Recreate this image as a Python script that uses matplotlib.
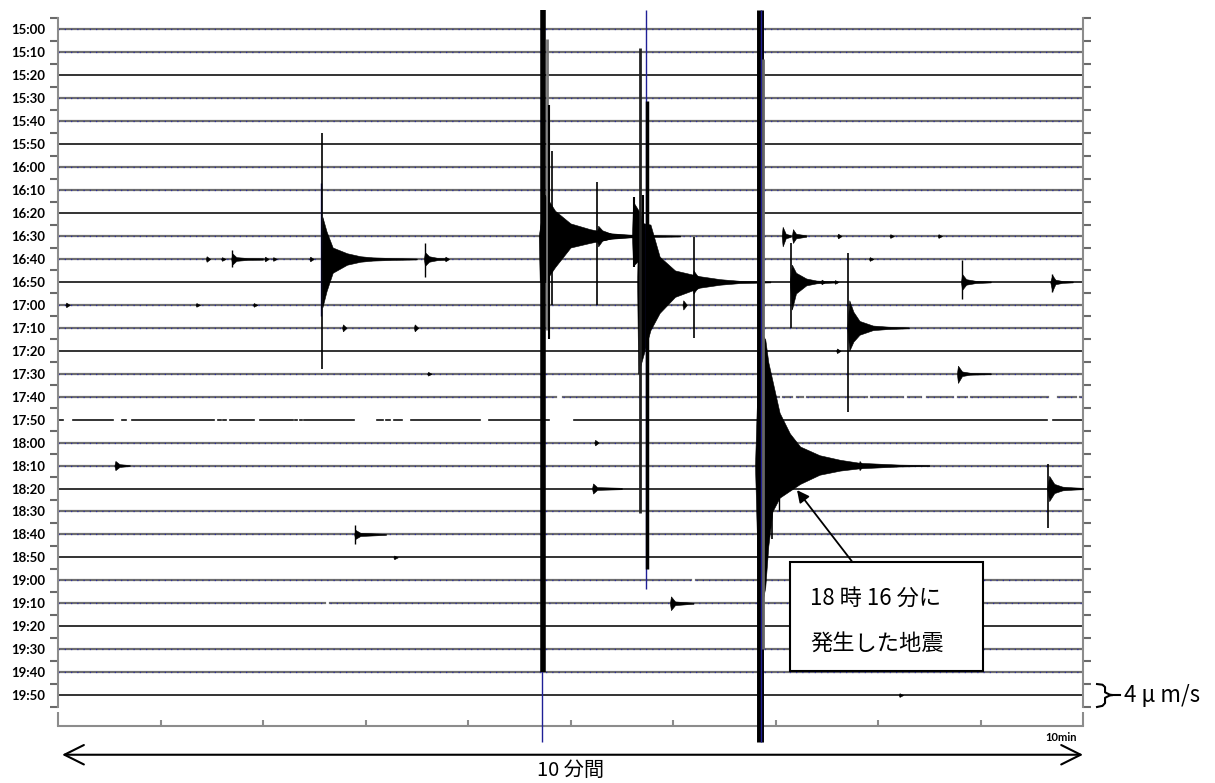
import numpy as np
import matplotlib.pyplot as plt
from matplotlib.patches import Rectangle

plt.rcParams['font.family'] = ['Noto Sans CJK JP', 'DejaVu Sans']

# one trace row every 10 minutes, 10 minutes across
row_labels = ['15:00', '15:10', '15:20', '15:30', '15:40', '15:50',
              '16:00', '16:10', '16:20', '16:30', '16:40', '16:50',
              '17:00', '17:10', '17:20', '17:30', '17:40', '17:50',
              '18:00', '18:10', '18:20', '18:30', '18:40', '18:50',
              '19:00', '19:10', '19:20', '19:30', '19:40', '19:50']

# missing data (minutes) on some rows
gaps_1740 = [(4.86, 4.93), (7.03, 7.07), (7.16, 7.21), (7.27, 7.31), (7.89, 7.93),
             (8.24, 8.29), (8.42, 8.48), (8.73, 8.78), (8.87, 8.91), (9.66, 9.76),
             (9.93, 9.97)]
gaps_1750 = [(0.05, 0.15), (0.54, 0.62), (0.66, 0.72), (1.52, 1.56), (1.59, 1.61),
             (1.64, 1.68), (1.91, 1.97), (2.29, 2.31), (2.33, 2.36), (2.38, 2.40),
             (2.89, 3.11), (3.17, 3.20), (3.24, 3.28), (3.36, 3.44), (4.12, 4.20),
             (4.79, 5.03), (9.65, 9.71)]
gaps_1900 = [(6.18, 6.22)]
gaps_1910 = [(2.60, 2.65)]
row_gaps = {16: gaps_1740, 17: gaps_1750, 24: gaps_1900, 25: gaps_1910}

BLK = 'black'
BLU = '#1f1f96'
# spikes: (row, minute, up, down, line width, colour), amplitudes in row spacings
spikes = [
    (9, 4.72, 9.84, 22.03, 1.0, BLU),
    (9, 4.73, 9.84, 19.0, 4.0, BLK),
    (9, 4.77, 8.6, 4.1, 2.0, '#777777'),
    (9, 4.79, 5.7, 4.5, 1.5, BLK),
    (9, 4.82, 3.7, 3.0, 1.2, BLK),
    (9, 5.26, 2.35, 3.0, 1.2, BLK),
    (9, 5.62, 1.7, 1.35, 1.5, BLK),
    (10, 1.70, 0.4, 0.35, 1.0, BLK),
    (10, 2.57, 3.3, 2.5, 1.0, BLU),
    (10, 2.575, 5.5, 4.8, 1.2, BLK),
    (10, 3.58, 0.7, 0.8, 1.0, BLK),
    (11, 5.68, 10.2, 10.06, 2.0, '#222222'),
    (11, 5.71, 3.8, 3.0, 1.5, BLK),
    (11, 5.74, 11.84, 13.4, 1.0, BLU),
    (11, 5.75, 7.9, 12.5, 2.5, BLK),
    (11, 6.20, 1.96, 2.44, 1.2, BLK),
    (11, 7.155, 1.7, 2.0, 1.2, BLK),
    (11, 8.82, 0.95, 0.75, 1.0, BLK),
    (11, 9.70, 0.35, 0.45, 1.0, BLK),
    (13, 7.71, 3.25, 3.65, 1.2, BLK),
    (19, 6.85, 19.85, 12.06, 5.0, BLK),
    (19, 6.86, 19.85, 12.06, 1.0, BLU),
    (19, 6.88, 17.7, 8.0, 2.0, '#666666'),
    (19, 6.97, 2.9, 3.2, 1.2, BLK),
    (19, 7.03, 2.0, 2.0, 1.0, BLK),
    (20, 9.66, 1.05, 1.7, 1.2, BLK),
    (22, 2.90, 0.4, 0.4, 1.0, BLK),
]

# coda envelopes: (row, minutes, up, down); down None -> same as up
codas = [
    (10, [1.69, 1.70, 1.74, 1.85, 2.0], [0, 0.25, 0.08, 0.04, 0.03], None),
    (10, [2.57, 2.58, 2.62, 2.68, 2.82, 2.95, 3.07, 3.27, 3.5],
     [0, 1.83, 1.2, 0.5, 0.25, 0.12, 0.07, 0.04, 0.02],
     [0, 2.1, 1.4, 0.6, 0.25, 0.12, 0.07, 0.04, 0.02]),
    (10, [3.57, 3.58, 3.62, 3.7, 3.8], [0, 0.3, 0.12, 0.05, 0.03], None),
    (9, [4.69, 4.70, 4.75, 4.85, 5.0, 5.19, 5.39, 5.58, 5.78, 6.07],
     [0, 0.3, 1.8, 1.1, 0.55, 0.3, 0.12, 0.06, 0.04, 0.02],
     [0, 2.0, 2.0, 1.35, 0.5, 0.3, 0.12, 0.06, 0.04, 0.02]),
    (9, [5.25, 5.27, 5.31, 5.4, 5.6], [0, 0.45, 0.25, 0.1, 0.03], [0, 0.45, 0.2, 0.1, 0.03]),
    (9, [5.60, 5.61, 5.68, 5.72, 5.8], [0, 1.5, 1.0, 0.2, 0.05], [0, 1.3, 1.0, 0.2, 0.05]),
    (11, [5.65, 5.66, 5.78, 5.87, 6.02, 6.26, 6.46, 6.65, 6.95],
     [0, 2.6, 2.5, 1.1, 0.5, 0.25, 0.12, 0.05, 0.02],
     [0, 4.0, 2.1, 1.35, 0.65, 0.25, 0.12, 0.05, 0.02]),
    (11, [6.19, 6.20, 6.24, 6.32, 6.5], [0, 0.5, 0.25, 0.1, 0.03], None),
    (9, [7.06, 7.07, 7.10, 7.15], [0, 0.4, 0.1, 0.03], [0, 0.45, 0.1, 0.03]),
    (9, [7.16, 7.17, 7.20, 7.30], [0, 0.3, 0.1, 0.03], None),
    (11, [7.14, 7.16, 7.20, 7.30, 7.40, 7.60], [0, 0.75, 0.4, 0.15, 0.06, 0.02],
     [0, 1.2, 0.5, 0.15, 0.06, 0.02]),
    (11, [8.81, 8.82, 8.86, 8.95, 9.10], [0, 0.35, 0.12, 0.05, 0.02], None),
    (11, [9.68, 9.70, 9.73, 9.80, 9.9], [0, 0.3, 0.1, 0.04, 0.02], [0, 0.4, 0.1, 0.04, 0.02]),
    (13, [7.70, 7.72, 7.76, 7.82, 7.95, 8.10, 8.30], [0, 1.2, 0.7, 0.3, 0.1, 0.05, 0.02],
     [0, 1.0, 0.6, 0.3, 0.1, 0.05, 0.02]),
    (15, [8.77, 8.78, 8.82, 8.90, 9.10], [0, 0.35, 0.1, 0.04, 0.02], [0, 0.4, 0.1, 0.04, 0.02]),
    (19, [6.80, 6.84, 6.90, 6.93, 6.97, 7.04, 7.14, 7.24, 7.43, 7.63, 7.82, 8.21, 8.5],
     [0, 5.9, 5.5, 4.5, 3.7, 2.3, 1.4, 0.83, 0.45, 0.25, 0.12, 0.04, 0.02],
     [0, 6.7, 5.3, 3.5, 2.0, 1.4, 1.1, 0.8, 0.4, 0.22, 0.12, 0.04, 0.02]),
    (19, [0.55, 0.56, 0.60, 0.70], [0, 0.2, 0.06, 0.02], None),
    (20, [5.21, 5.22, 5.26, 5.50], [0, 0.22, 0.06, 0.03], None),
    (20, [9.65, 9.67, 9.72, 9.80, 9.90, 10.0], [0, 0.55, 0.2, 0.08, 0.05, 0.03], None),
    (22, [2.89, 2.90, 2.95, 3.05, 3.20], [0, 0.2, 0.07, 0.05, 0.02], None),
    (25, [5.97, 5.98, 6.02, 6.20], [0, 0.3, 0.08, 0.02], None),
]

# tiny blips: (row, minute, amplitude)
blips = [(10, 1.45, 0.12), (10, 1.60, 0.08), (10, 2.02, 0.1), (10, 2.10, 0.08),
         (10, 2.46, 0.1), (10, 3.78, 0.1), (10, 7.92, 0.08), (12, 0.08, 0.1),
         (12, 1.35, 0.08), (12, 1.91, 0.08), (12, 6.10, 0.2), (13, 2.78, 0.15),
         (13, 3.48, 0.15), (14, 7.60, 0.1), (15, 3.61, 0.08), (9, 7.61, 0.1),
         (9, 8.12, 0.08), (9, 8.59, 0.08), (11, 7.45, 0.1), (11, 7.58, 0.08),
         (18, 5.24, 0.12), (19, 7.82, 0.2), (23, 3.28, 0.08), (29, 8.21, 0.08)]

fig = plt.figure(figsize=(12.15, 7.83), dpi=100)
ax = fig.add_axes([58 / 1215, 1 - 707 / 783, 1025 / 1215, 689 / 783])
ax.set_xlim(0, 10)
ax.set_ylim(29.52, -0.48)

# baselines
for i in range(len(row_labels)):
    pieces = []
    start = 0.0
    for a, b in row_gaps.get(i, []):
        pieces.append((start, a))
        start = b
    pieces.append((start, 10.0))
    for a, b in pieces:
        if i % 3 == 2:
            ax.plot([a, b], [i, i], color='#111111', lw=1.2, zorder=2)
        else:
            ax.plot([a, b], [i, i], color='#6e6e6e', lw=1.6, zorder=2)
            ax.plot([a, b], [i, i], color='#2c2ca0', lw=0.9, ls=(0, (1, 4)), zorder=2)

for row, t, up, down in codas:
    up = np.array(up)
    down = up if down is None else np.array(down)
    ax.fill_between(t, row - up, row + down, color='black', lw=0.4, zorder=3)

for row, m, amp in blips:
    ax.fill_between([m - 0.008, m, m + 0.035], [row, row - amp, row],
                    [row, row + amp, row], color='black', lw=0.4, zorder=3)

for row, m, up, down, w, c in spikes:
    ax.vlines(m, row - up, row + down, colors=c, lw=w, zorder=4, clip_on=False)

# axes styling
for s in ['left', 'right', 'bottom']:
    ax.spines[s].set_color('#8c8c8c')
    ax.spines[s].set_linewidth(1.5)
ax.spines['top'].set_visible(False)
ax.spines['bottom'].set_position(('outward', 13.7))
ax.spines['bottom'].set_bounds(0, 10)

ax.set_yticks(range(len(row_labels)))
ax.set_yticklabels(row_labels, fontfamily='Lato', fontweight='bold', fontsize=9.5)
ax.set_yticks(np.arange(-0.5, 30, 1.0), minor=True)
ax.yaxis.set_ticks_position('both')
ax.tick_params(axis='y', which='major', length=0, pad=9, labelright=False)
ax.tick_params(axis='y', which='minor', direction='out', length=6, width=1.5,
               color='#6a6a6a')

ax.set_xticks([0, 10])
ax.set_xticklabels(['', ''])
ax.set_xticks(range(1, 10), minor=True)
ax.tick_params(axis='x', which='major', direction='in', length=10, width=1.5,
               color='#8c8c8c')
ax.tick_params(axis='x', which='minor', direction='in', length=4.3, width=1.5,
               color='#8c8c8c')
ax.text(9.94, 30.85, '10min', ha='right', va='center', fontsize=8,
        fontfamily='Lato', fontweight='bold', clip_on=False)

# 10 minute span arrow
ax.annotate('', xy=(0.04, 31.6), xytext=(10.0, 31.6), annotation_clip=False,
            arrowprops=dict(arrowstyle='<->,head_length=0.7,head_width=0.35',
                            mutation_scale=20, lw=1.5, color='black',
                            shrinkA=0, shrinkB=0))
ax.text(5.0, 32.3, '10 分間', ha='center', va='center', fontsize=14.5)

# amplitude scale brace
bx = [10.137, 10.19, 10.215, 10.215, 10.26, 10.29, 10.26, 10.215, 10.215, 10.19, 10.137]
by = [28.52, 28.55, 28.65, 28.88, 28.98, 29.0, 29.02, 29.12, 29.35, 29.47, 29.52]
ax.plot(bx, by, color='black', lw=1.5, clip_on=False)
ax.plot([10.29, 10.36], [29.0, 29.0], color='black', lw=1.5, clip_on=False)
ax.text(10.40, 29.0, '4 μ m/s', ha='left', va='center', fontsize=16, clip_on=False)

# callout
ax.add_patch(Rectangle((7.14, 23.2), 1.88, 4.75, facecolor='white',
                       edgecolor='black', lw=1.5, zorder=6))
ax.text(7.34, 24.77, '18 時 16 分に', ha='left', va='center', fontsize=16, zorder=7)
ax.text(7.34, 26.73, '発生した地震', ha='left', va='center', fontsize=16, zorder=7)
ax.annotate('', xy=(7.21, 20.07), xytext=(7.75, 23.2), zorder=7,
            arrowprops=dict(arrowstyle='-|>', mutation_scale=18, lw=1.3,
                            color='black', shrinkA=0, shrinkB=0))

fig.savefig('out.png', dpi=100)
